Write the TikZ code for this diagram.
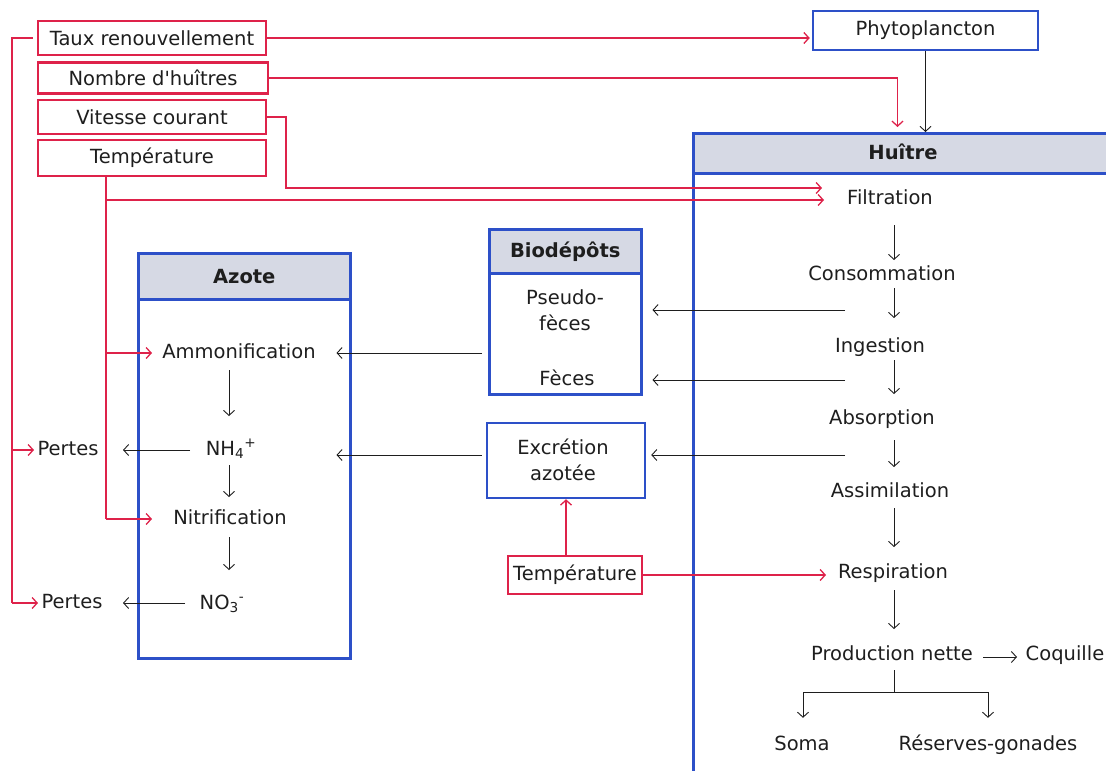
\documentclass[tikz,border=0pt]{standalone}
\usepackage{fontspec}
\newfontfamily\dv{DejaVu Sans}
\usetikzlibrary{arrows.meta,calc}
\definecolor{cred}{RGB}{222,34,74}
\definecolor{cblue}{RGB}{45,80,200}
\definecolor{hdr}{RGB}{214,217,228}
\definecolor{txt}{RGB}{30,30,30}
\begin{document}
\begin{tikzpicture}[x=1pt,y=-1pt,
  font=\dv\fontsize{19.5}{26}\selectfont, text=txt,
  lbl/.style={inner sep=2pt, text height=14pt, text depth=4pt, align=center},
  mlbl/.style={inner sep=2pt, align=center},
  rbox/.style={draw=cred, line width=2.2pt, inner sep=0pt, fill=white},
  bbox/.style={draw=cblue, line width=2.5pt, inner sep=0pt, anchor=north west},
  hbox/.style={bbox, fill=hdr, font=\dv\fontsize{19.5}{26}\selectfont\bfseries},
  rline/.style={draw=cred, line width=1.3pt},
  rarr/.style={rline, -{Straight Barb[length=5pt,width=11pt]}},
  barr/.style={draw=txt, line width=0.9pt, -{Straight Barb[length=5pt,width=11pt]}},
  bline/.style={draw=txt, line width=0.9pt}]
\useasboundingbox (0,0) rectangle (1106,771);
\clip (0,0) rectangle (1106,771);

% ---- boxes ----
\node[bbox, minimum width=440pt, minimum height=680pt] (hbox) at (692,132) {};
\node[hbox, minimum width=440pt, minimum height=40pt] (hhdr) at (692,132) {};
\node[font=\dv\fontsize{19.5}{26}\selectfont\bfseries] (huitre) at (903,152) {Huître};

\node[bbox, minimum width=212pt, minimum height=405pt] (azbox) at (137,252) {};
\node[hbox, minimum width=212pt, minimum height=46pt] (azhdr) at (137,252) {Azote};

\node[bbox, minimum width=152pt, minimum height=165pt] (bio) at (488,228) {};
\node[hbox, minimum width=152pt, minimum height=44pt] (biohdr) at (488,228) {Biodépôts};

\node[bbox, anchor=center, minimum width=158pt, minimum height=75pt] (excr) at (566,460.5) {};
\node[mlbl] (excrt) at (563,460) {Excrétion\\azotée};

\node[bbox, anchor=center, minimum width=225pt, minimum height=39pt] (phyto) at (925.5,30.5) {Phytoplancton};

\node[rbox, minimum width=228pt, minimum height=34pt] (taux) at (152,38) {Taux renouvellement};
\node[rbox, minimum width=230pt, minimum height=31pt] (nombre) at (153,78) {Nombre d'huîtres};
\node[rbox, minimum width=228pt, minimum height=34pt] (vitesse) at (152,117) {Vitesse courant};
\node[rbox, minimum width=228pt, minimum height=36pt] (temp) at (152,158) {Température};
\node[rbox, minimum width=134pt, minimum height=38pt] (temp2) at (575,575) {Température};

% ---- texts ----
\node[lbl] (filt) at (890,199) {Filtration};
\node[lbl] (cons) at (882,275) {Consommation};
\node[lbl] (ing) at (880,347) {Ingestion};
\node[lbl] (abso) at (882,419) {Absorption};
\node[lbl] (assim) at (890,492) {Assimilation};
\node[lbl] (resp) at (893,573) {Respiration};
\node[lbl] (prod) at (892,655) {Production nette};
\node[lbl] (coq) at (1065,655) {Coquille};
\node[lbl] (soma) at (802,745) {Soma};
\node[lbl] (res) at (988,745) {Réserves-gonades};

\node[mlbl] (pseudo) at (565,310) {Pseudo-\\fèces};
\node[lbl] (feces) at (567,380) {Fèces};

\node[lbl] (amm) at (239,353) {Ammonification};
\node[lbl] (nh) at (231,450) {NH\textsubscript{4}\textsuperscript{+}};
\node[lbl] (nitr) at (230,519) {Nitrification};
\node[lbl] (no) at (222,604) {NO\textsubscript{3}\textsuperscript{-}};
\node[lbl] (p1) at (68,450) {Pertes};
\node[lbl] (p2) at (72,603) {Pertes};

% ---- coordinates ----
\coordinate (colx) at (894,0);
\coordinate (hsrc) at (845,0);
\coordinate (L) at (12,38);
\coordinate (tv) at (106,176);
\coordinate (br) at (894,692);

% ---- black arrows in Huitre ----
\draw[barr] (colx |- 0,225) -- (colx |- 0,260);
\draw[barr] (colx |- 0,288) -- (colx |- 0,318);
\draw[barr] (colx |- 0,360) -- (colx |- 0,394);
\draw[barr] (colx |- 0,440) -- (colx |- 0,467);
\draw[barr] (colx |- 0,508) -- (colx |- 0,547);
\draw[barr] (colx |- 0,590) -- (colx |- 0,629);
\draw[barr] ($(prod)+(91,2)$) -- ($(coq)+(-48,2)$);
\draw[bline] (colx |- 0,670) -- (br);
\draw[barr] (br) -| ($(soma.north)+(1,-16)$);
\draw[barr] (br) -| ($(res.north)+(0,-16)$);

% phyto -> huitre
\draw[barr] (phyto.south) -- (phyto.south |- hbox.north);

% huitre -> biodepots / excretion
\draw[barr] (hsrc |- pseudo) -- ($(bio.east |- pseudo)+(10,0)$);
\draw[barr] (hsrc |- feces) -- ($(bio.east |- feces)+(10,0)$);
\draw[barr] (hsrc |- 0,455) -- ($(excr.east |- 0,455)+(5,0)$);

% biodepots / excretion -> azote
\draw[barr] ($(bio.west |- amm)+(-6,0)$) -- ($(azbox.east |- amm)+(-15,0)$);
\draw[barr] ($(excr.west |- 0,455)+(-4,0)$) -- ($(azbox.east |- 0,455)+(-15,0)$);

% azote internal
\draw[barr] (229,370) -- (229,416);
\draw[barr] (229,465) -- (229,497);
\draw[barr] (229,537) -- (229,570);
\draw[barr] ($(nh)+(-41,0)$) -- ($(p1)+(55,0)$);
\draw[barr] ($(no)+(-37,-1)$) -- ($(p2)+(51,0)$);

% ---- red connectors ----
\draw[rarr] (taux.east) -- ($(taux.east -| phyto.west)+(-2,0)$);
\draw[rarr] (nombre.east) -| ($(phyto.south |- hbox.north)+(-28,-5)$);
\draw[rarr] (vitesse.east) -- ++(19,0) |- (822,188);
\draw[rline] ($(taux.west)+(-4,0)$) -- (L) -- (L |- p2);
\draw[rarr] (L |- p1) -- (34,450);
\draw[rarr] (L |- p2) -- (38,603);
\draw[rline] (tv) -- (tv |- nitr);
\draw[rarr] (tv |- 0,200) -- (824,200);
\draw[rarr] (tv |- amm) -- (152,353);
\draw[rarr] (tv |- nitr) -- (152,519);
\draw[rarr] (temp2.north -| excr.south) -- (excr.south);
\draw[rarr] (temp2.east) -- (826,575);
\end{tikzpicture}
\end{document}
